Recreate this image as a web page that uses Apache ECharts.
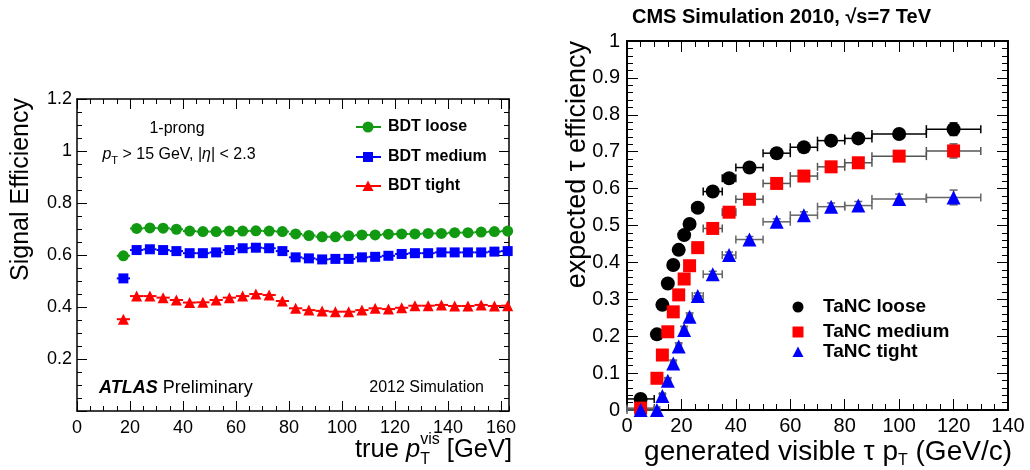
<!DOCTYPE html>
<html><head><meta charset="utf-8">
<script src="https://cdn.jsdelivr.net/npm/echarts@6/dist/echarts.min.js"></script>
<style>html,body{margin:0;padding:0;background:#fff}#c{width:1030px;height:470px}</style>
</head><body><div id="c"></div>
<script>
// ---------- Left (ATLAS) data ----------
const leftPt = [17.5,22.5,27.5,32.5,37.5,42.5,47.5,52.5,57.5,62.5,67.5,72.5,77.5,82.5,87.5,92.5,97.5,102.5,107.5,112.5,117.5,122.5,127.5,132.5,137.5,142.5,147.5,152.5,157.5,162.5];
const leftPtErr = [2.5,2.5,2.5,2.5,2.5,2.5,2.5,2.5,2.5,2.5,2.5,2.5,2.5,2.5,2.5,2.5,2.5,2.5,2.5,2.5,2.5,2.5,2.5,2.5,2.5,2.5,2.5,2.5,2.5,2.5];
const leftLoose = [0.597,0.702,0.704,0.703,0.699,0.692,0.690,0.690,0.692,0.692,0.693,0.692,0.690,0.681,0.675,0.670,0.670,0.674,0.677,0.677,0.680,0.681,0.681,0.683,0.683,0.686,0.686,0.688,0.690,0.692];
const leftMedium = [0.510,0.619,0.622,0.619,0.615,0.607,0.607,0.610,0.619,0.626,0.628,0.626,0.615,0.591,0.587,0.583,0.585,0.585,0.591,0.593,0.597,0.604,0.607,0.607,0.610,0.610,0.610,0.610,0.613,0.615];
const leftTight = [0.353,0.442,0.442,0.436,0.427,0.417,0.418,0.427,0.436,0.442,0.450,0.446,0.423,0.395,0.388,0.385,0.382,0.382,0.388,0.395,0.392,0.397,0.405,0.405,0.408,0.404,0.404,0.408,0.404,0.405];
const leftNames = ['BDT loose','BDT medium','BDT tight'];

// ---------- Right (CMS) data ----------
const rightPt = [5,11,13,15,17,19,21,23,26,31.5,37.5,45,55,65,75,85,100,120];
const rightPtErr = [5,1,1,1,1,1,1,1,2,3.5,2.5,5,5,5,5,5,10,10];
const rightLoose = [0.030,0.205,0.285,0.343,0.393,0.434,0.474,0.504,0.548,0.592,0.628,0.657,0.696,0.712,0.730,0.736,0.748,0.761];
const rightMedium = [0.005,0.086,0.149,0.212,0.266,0.312,0.355,0.391,0.440,0.492,0.536,0.571,0.614,0.634,0.659,0.670,0.688,0.702];
const rightTight = [0.000,0.000,0.038,0.079,0.126,0.172,0.217,0.253,0.309,0.368,0.420,0.462,0.510,0.528,0.551,0.554,0.572,0.576];
const rightLooseErr = [0.008,0.010,0.010,0.010,0.010,0.010,0.010,0.010,0.008,0.008,0.008,0.008,0.008,0.009,0.010,0.011,0.012,0.017];
const rightMediumErr = [0.004,0.008,0.009,0.010,0.010,0.010,0.010,0.010,0.008,0.008,0.008,0.008,0.008,0.009,0.010,0.011,0.012,0.019];
const rightTightErr = [0.002,0.002,0.006,0.008,0.009,0.010,0.010,0.010,0.008,0.008,0.008,0.008,0.008,0.009,0.010,0.011,0.013,0.020];
const rightNames = ['TaNC loose','TaNC medium','TaNC tight'];

// tick labels
const leftXTicks = ['0','20','40','60','80','100','120','140','160'];
const rightXTicks = ['0','20','40','60','80','100','120','140'];

const FONT = '"Liberation Sans", Arial, Helvetica, sans-serif';
const ctx = document.createElement('canvas').getContext('2d');
function tw(t, size, weight, style){ ctx.font = (style||'normal')+' '+(weight||'normal')+' '+size+'px '+FONT; return ctx.measureText(t).width; }
function txt(t, x, y, o){ o=o||{}; return {type:'text', x:x, y:y, rotation:o.rot||0, z:50,
  style:{text:t, fontSize:o.size||16, fontWeight:o.weight||'normal', fontStyle:o.style||'normal', fontFamily:FONT, fill:'#000',
  align:o.align||'left', verticalAlign:'middle', textAlign:o.align||'left', textVerticalAlign:'middle'}}; }
function line(parts, x, y, align){
  const widths = parts.map(p => p.stack ? Math.max.apply(null, p.stack.map(q => tw(q.t,q.size,q.weight,q.style))) : tw(p.t,p.size,p.weight,p.style));
  const total = widths.reduce((a,b)=>a+b,0);
  let cx = align==='right' ? x-total : (align==='center' ? x-total/2 : x);
  const els = [];
  parts.forEach((p,i)=>{ (p.stack||[p]).forEach(q=>els.push(txt(q.t, cx, y+(q.dy||0), q))); cx += widths[i]; });
  return els;
}

function errRender(color, lw, cap){
  return function(params, api){
    const x=api.value(0), y=api.value(1), xe=api.value(2), ye=api.value(3);
    const a=api.coord([x-xe,y]), b=api.coord([x+xe,y]);
    const st={stroke:color, lineWidth:lw};
    const ch=[{type:'line', shape:{x1:a[0],y1:a[1],x2:b[0],y2:b[1]}, style:st}];
    if(cap){
      ch.push({type:'line', shape:{x1:a[0],y1:a[1]-cap,x2:a[0],y2:a[1]+cap}, style:st});
      ch.push({type:'line', shape:{x1:b[0],y1:b[1]-cap,x2:b[0],y2:b[1]+cap}, style:st});
    }
    if(ye>0){
      const c=api.coord([x,y-ye]), d=api.coord([x,y+ye]);
      ch.push({type:'line', shape:{x1:c[0],y1:c[1],x2:d[0],y2:d[1]}, style:st});
      if(cap){
        ch.push({type:'line', shape:{x1:c[0]-cap,y1:c[1],x2:c[0]+cap,y2:c[1]}, style:st});
        ch.push({type:'line', shape:{x1:d[0]-cap,y1:d[1],x2:d[0]+cap,y2:d[1]}, style:st});
      }
    }
    return {type:'group', children:ch};
  };
}
function zip(xs, ys){ return xs.map((x,i)=>[x, ys[i]]); }
function zip4(xs, ys, xe, ye){ return xs.map((x,i)=>[x, ys[i], xe[i], ye ? ye[i] : 0]); }

const black = '#000';
const lab = {color:black, fontFamily:FONT};
function fmt1(v){ const r=Math.round(v*10)/10; return r===0 ? '' : String(r); }

const xAxes = [
  // left grid
  {gridIndex:0, type:'value', position:'bottom', min:0, max:163, interval:20,
   axisLine:{show:true, onZero:false, lineStyle:{color:black, width:1.5}},
   axisTick:{show:true, inside:true, length:10, lineStyle:{color:black, width:1}},
   axisLabel:Object.assign({fontSize:18, margin:8, showMaxLabel:false, formatter:v=>{const i=leftXTicks.indexOf(String(v)); return i>=0?leftXTicks[i]:'';}}, lab),
   splitLine:{show:false}},
  {gridIndex:0, type:'value', position:'bottom', min:0, max:163, interval:5,
   axisLine:{show:false, onZero:false}, axisTick:{show:true, inside:true, length:5, lineStyle:{color:black}},
   axisLabel:{show:false}, splitLine:{show:false}},
  {gridIndex:0, type:'value', position:'top', min:0, max:163, interval:20,
   axisLine:{show:true, onZero:false, lineStyle:{color:black, width:1.5}},
   axisTick:{show:true, inside:true, length:10, lineStyle:{color:black}}, axisLabel:{show:false}, splitLine:{show:false}},
  {gridIndex:0, type:'value', position:'top', min:0, max:163, interval:5,
   axisLine:{show:false, onZero:false}, axisTick:{show:true, inside:true, length:5, lineStyle:{color:black}},
   axisLabel:{show:false}, splitLine:{show:false}},
  // right grid
  {gridIndex:1, type:'value', position:'bottom', min:0, max:140, interval:20,
   axisLine:{show:true, onZero:false, lineStyle:{color:black, width:2}},
   axisTick:{show:true, inside:true, length:11, lineStyle:{color:black, width:1}},
   minorTick:{show:true, splitNumber:4, length:6, lineStyle:{color:black, width:1}},
   axisLabel:Object.assign({fontSize:20, margin:6, formatter:v=>{const i=rightXTicks.indexOf(String(v)); return i>=0?rightXTicks[i]:'';}}, lab),
   splitLine:{show:false}, minorSplitLine:{show:false}},
  {gridIndex:1, type:'value', position:'top', min:0, max:140, interval:20,
   axisLine:{show:true, onZero:false, lineStyle:{color:black, width:2}},
   axisTick:{show:true, inside:true, length:11, lineStyle:{color:black, width:1}},
   minorTick:{show:true, splitNumber:4, length:6, lineStyle:{color:black, width:1}},
   axisLabel:{show:false}, splitLine:{show:false}}
];
const yAxes = [
  {gridIndex:0, type:'value', position:'left', min:0, max:1.2, interval:0.2,
   axisLine:{show:true, onZero:false, lineStyle:{color:black, width:1.5}},
   axisTick:{show:true, inside:true, length:10, lineStyle:{color:black}},
   minorTick:{show:true, splitNumber:4, length:5, lineStyle:{color:black}},
   axisLabel:Object.assign({fontSize:18, margin:5, formatter:fmt1}, lab), splitLine:{show:false}},
  {gridIndex:0, type:'value', position:'right', min:0, max:1.2, interval:0.2,
   axisLine:{show:true, onZero:false, lineStyle:{color:black, width:1.5}},
   axisTick:{show:true, inside:true, length:10, lineStyle:{color:black}},
   minorTick:{show:true, splitNumber:4, length:5, lineStyle:{color:black}},
   axisLabel:{show:false}, splitLine:{show:false}},
  {gridIndex:1, type:'value', position:'left', min:0, max:1, interval:0.1,
   axisLine:{show:true, onZero:false, lineStyle:{color:black, width:2}},
   axisTick:{show:true, inside:true, length:11, lineStyle:{color:black}},
   minorTick:{show:true, splitNumber:5, length:6, lineStyle:{color:black}},
   axisLabel:Object.assign({fontSize:20, margin:7, formatter:v=>{const r=Math.round(v*10)/10; return String(r);}}, lab), splitLine:{show:false}},
  {gridIndex:1, type:'value', position:'right', min:0, max:1, interval:0.1,
   axisLine:{show:true, onZero:false, lineStyle:{color:black, width:2}},
   axisTick:{show:true, inside:true, length:11, lineStyle:{color:black}},
   minorTick:{show:true, splitNumber:5, length:6, lineStyle:{color:black}},
   axisLabel:{show:false}, splitLine:{show:false}}
];

const LC = ['#129912','#0000ff','#ff0000'];
const LSYM = ['circle','rect','triangle'];
const LSIZE = [11,10,11];
const leftVals = [leftLoose, leftMedium, leftTight];
const RC = ['#000000','#ff0000','#0000ff'];
const RERR = ['#000000','#555555','#666666'];
const RSIZE = [14,13,14];
const rightVals = [rightLoose, rightMedium, rightTight];
const rightErrs = [rightLooseErr, rightMediumErr, rightTightErr];

const series = [];
leftVals.forEach((vals,k)=>{
  series.push({type:'custom', name:leftNames[k]+' err', xAxisIndex:0, yAxisIndex:0, clip:true, z:2, silent:true,
    renderItem:errRender(LC[k], 2, 0), data:zip4(leftPt, vals, leftPtErr)});
  series.push({type:'scatter', name:leftNames[k], xAxisIndex:0, yAxisIndex:0, z:3, symbol:LSYM[k], symbolSize:LSIZE[k],
    itemStyle:{color:LC[k], opacity:1}, data:zip(leftPt, vals)});
});
rightVals.forEach((vals,k)=>{
  series.push({type:'custom', name:rightNames[k]+' err', xAxisIndex:4, yAxisIndex:2, clip:false, z:2, silent:true,
    renderItem:errRender(RERR[k], 1.5, 4), data:zip4(rightPt, vals, rightPtErr, rightErrs[k])});
  series.push({type:'scatter', name:rightNames[k], xAxisIndex:4, yAxisIndex:2, z:3, symbol:LSYM[k], symbolSize:RSIZE[k],
    itemStyle:{color:RC[k], opacity:1}, data:zip(rightPt, vals)});
});

// ---------- texts & legends ----------
const g = [];
// left axis titles
g.push(txt('Signal Efficiency', 21, 98, {size:25, align:'right', rot:Math.PI/2}));
line([{t:'true ', size:25.5},{t:'p', size:25.5, style:'italic'},
      {stack:[{t:'vis', size:16, dy:-10},{t:'T', size:16, dy:10}]},{t:' [GeV]', size:25.5}], 512, 450, 'right').forEach(e=>g.push(e));
line([{t:'1-prong', size:16}], 177, 129, 'center').forEach(e=>g.push(e));
line([{t:'p', size:16, style:'italic'},{t:'T', size:11, dy:6},{t:' > 15 GeV, |', size:16},{t:'η', size:16, style:'italic'},{t:'| < 2.3', size:16}], 179, 155, 'center').forEach(e=>g.push(e));
line([{t:'ATLAS', size:18, weight:'bold', style:'italic'},{t:' Preliminary', size:18}], 99, 388, 'left').forEach(e=>g.push(e));
line([{t:'2012 Simulation', size:16}], 484, 388, 'right').forEach(e=>g.push(e));
// left legend
const LLY = [127,157,186];
LLY.forEach((y,k)=>{
  g.push({type:'line', shape:{x1:356,y1:y,x2:381,y2:y}, style:{stroke:LC[k], lineWidth:2}, z:40});
  if(k===0) g.push({type:'circle', shape:{cx:368,cy:y,r:5.5}, style:{fill:LC[k]}, z:41});
  if(k===1) g.push({type:'rect', shape:{x:363,y:y-5,width:10,height:10}, style:{fill:LC[k]}, z:41});
  if(k===2) g.push({type:'polygon', shape:{points:[[368,y-5.5],[373.5,y+5],[362.5,y+5]]}, style:{fill:LC[k]}, z:41});
  g.push(txt(leftNames[k], 388, y, {size:16, weight:'bold'}));
});
// right title and axis titles
g.push(txt('CMS Simulation 2010, √s=7 TeV', 632, 17, {size:20, weight:'bold'}));
g.push(txt('expected τ efficiency', 578, 41, {size:27, align:'right', rot:Math.PI/2}));
line([{t:'generated visible τ p', size:28},{t:'T', size:16, dy:9},{t:' (GeV/c)', size:28}], 1012, 452, 'right').forEach(e=>g.push(e));
// right legend
const RLY = [307,332,352];
RLY.forEach((y,k)=>{
  if(k===0) g.push({type:'circle', shape:{cx:798,cy:y,r:5.5}, style:{fill:RC[k]}, z:41});
  if(k===1) g.push({type:'rect', shape:{x:792.5,y:y-5.5,width:11,height:11}, style:{fill:RC[k]}, z:41});
  if(k===2) g.push({type:'polygon', shape:{points:[[798,y-5.5],[803.5,y+5],[792.5,y+5]]}, style:{fill:RC[k]}, z:41});
  g.push(txt(rightNames[k], 823, y, {size:19, weight:'bold'}));
});

const chart = echarts.init(document.getElementById('c'), null, {renderer:'canvas'});
chart.setOption({
  animation:false,
  backgroundColor:'#fff',
  textStyle:{fontFamily:FONT},
  grid:[{left:77, top:99, width:432, height:312},
        {left:627, top:41, width:381, height:369}],
  xAxis:xAxes, yAxis:yAxes, series:series, graphic:g
});
</script></body></html>
